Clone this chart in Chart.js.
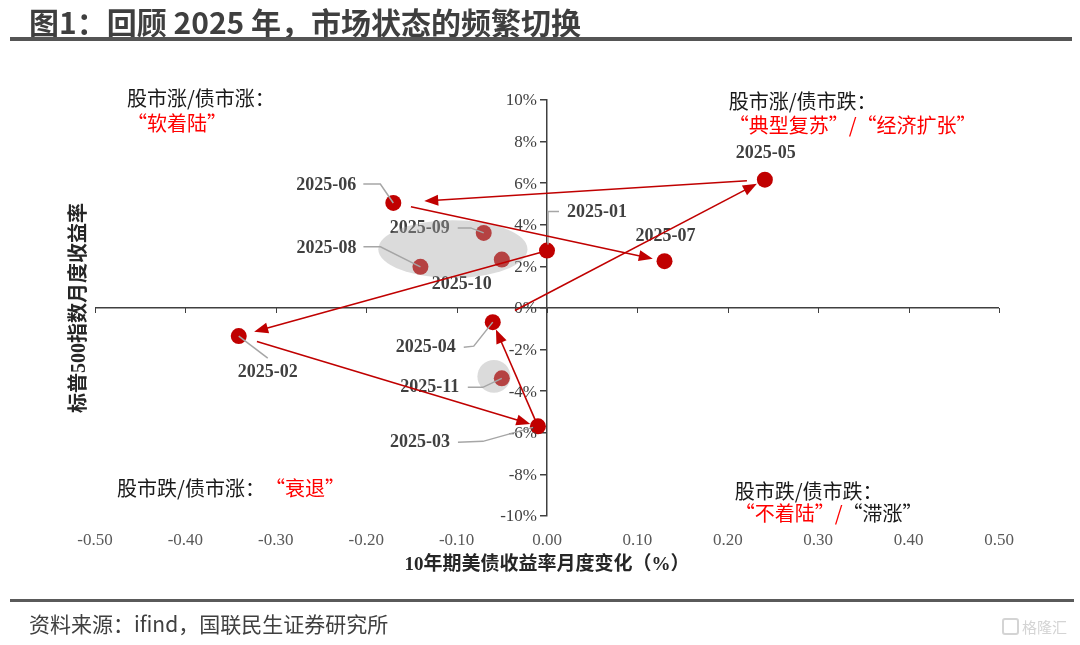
<!DOCTYPE html>
<html>
<head>
<meta charset="utf-8">
<script src="https://cdn.jsdelivr.net/npm/chart.js@4.4.0/dist/chart.umd.min.js"></script>
<style>
html,body{margin:0;padding:0;background:#fff;}
#wrap{position:relative;width:1080px;height:645px;overflow:hidden;background:#fff;}
#c{position:absolute;left:0;top:0;}
#title{position:absolute;left:29px;top:0px;font-family:"Noto Sans CJK SC";font-weight:bold;font-size:30px;line-height:42px;color:#3f3f3f;white-space:nowrap;}
#rule1{position:absolute;left:10px;top:37px;width:1062px;height:4px;background:#555;}
#rule2{position:absolute;left:10px;top:599px;width:1064px;height:3px;background:#5a5a5a;}
#source{position:absolute;left:29px;top:608px;font-family:"Noto Sans CJK SC";font-size:21px;line-height:30px;color:#404040;white-space:nowrap;}
#wm{position:absolute;left:1002px;top:617px;font-family:"Noto Sans CJK SC";font-size:15px;line-height:20px;color:#d4d4d4;white-space:nowrap;}
#wm span.ic{display:inline-block;width:13px;height:13px;border:2px solid #d4d4d4;border-radius:3px;vertical-align:-2px;margin-right:3px;}
</style>
</head>
<body>
<div id="wrap">
  <canvas id="c" width="1080" height="645"></canvas>
  <div id="title">图1：回顾 2025 年，市场状态的频繁切换</div>
  <div id="rule1"></div>
  <div id="rule2"></div>
  <div id="source">资料来源：ifind，国联民生证券研究所</div>
  <div id="wm"><span class="ic"></span>格隆汇</div>
</div>
<script>
// ---------------- data ----------------
const months = ['2025-01','2025-02','2025-03','2025-04','2025-05','2025-06','2025-07','2025-08','2025-09','2025-10','2025-11'];
const yieldChange = [0.000, -0.341, -0.010, -0.060, 0.241, -0.170, 0.130, -0.140, -0.070, -0.050, -0.050];
const spxReturn   = [2.76, -1.35, -5.69, -0.68, 6.17, 5.05, 2.25, 1.98, 3.61, 2.33, -3.38];
const xTickValues = [-0.5, -0.4, -0.3, -0.2, -0.1, 0, 0.1, 0.2, 0.3, 0.4, 0.5];
const yTickValues = [-10, -8, -6, -4, -2, 0, 2, 4, 6, 8, 10];
const pathMonths  = ['2025-01','2025-02','2025-03','2025-04','2025-05','2025-06','2025-07'];
const xTitle = '10年期美债收益率月度变化（%）';
const yTitle = '标普500指数月度收益率';

// ---------------- annotations / styling ----------------
const RED = '#C00000';
const quadrantNotes = [
  {x: -0.4646, y: 10.06, segs: [['股市涨/债市涨：', '#1a1a1a']]},
  {x: -0.4646, y: 8.86,  segs: [['“软着陆”', '#ff0000']]},
  {x: 0.2010,  y: 9.91,  segs: [['股市涨/债市跌：', '#1a1a1a']]},
  {x: 0.2010,  y: 8.76,  segs: [['“典型复苏”/“经济扩张”', '#ff0000']]},
  {x: -0.4756, y: -8.665, segs: [['股市跌/债市涨：', '#1a1a1a'], ['“衰退”', '#ff0000']]},
  {x: 0.2076,  y: -8.81, segs: [['股市跌/债市跌：', '#1a1a1a']]},
  {x: 0.2076,  y: -9.87, segs: [['“不着陆”/', '#ff0000'], ['“滞涨”', '#1a1a1a']]}
];
const highlightAreas = [
  {cx: -0.1041, cy: 2.83, rx: 0.0825, ry: 1.39},
  {cx: -0.0587, cy: -3.29, rx: 0.0183, ry: 0.79}
];
const arrowGaps = [[5,16],[19,8],[3,8],[25,9],[18,31],[18,12]];
const labelLayout = {
  '2025-01': {dx: 20, dy: -38, align: 'left', leader: [[1,-6],[1,-39],[12,-39]]},
  '2025-02': {dx: 29, dy: 36, leader: [[0,0],[29,22]]},
  '2025-03': {dx: -118, dy: 16, leader: [[-80,16],[-55,15],[-5,1]]},
  '2025-04': {dx: -67, dy: 25, leader: [[-29,25],[-19,24],[0,0]]},
  '2025-05': {dx: 1, dy: -26},
  '2025-06': {dx: -67, dy: -18, leader: [[-30,-19],[-13,-19],[0,0]]},
  '2025-07': {dx: 1, dy: -25},
  '2025-08': {dx: -94, dy: -18, leader: [[-57,-20],[-40,-20],[0,0]]},
  '2025-09': {dx: -64, dy: -5, leader: [[-26,-5],[-13,-5],[0,0]]},
  '2025-10': {dx: -40, dy: 25},
  '2025-11': {dx: -72, dy: 9, leader: [[-34,9],[-19,9],[0,0]]}
};

const points = months.map((m, i) => ({x: yieldChange[i], y: spxReturn[i], m}));

const decorPlugin = {
  id: 'decor',
  afterDatasetsDraw(chart) {
    const {ctx, scales: {x, y}} = chart;
    const px = i => ({x: x.getPixelForValue(yieldChange[i]), y: y.getPixelForValue(spxReturn[i])});
    ctx.save();
    // x-axis tick marks on zero line
    const y0 = y.getPixelForValue(0);
    ctx.strokeStyle = '#404040';
    ctx.lineWidth = 1;
    xTickValues.forEach(v => {
      const xx = Math.round(x.getPixelForValue(v)) + 0.5;
      ctx.beginPath(); ctx.moveTo(xx, y0); ctx.lineTo(xx, y0 + 5); ctx.stroke();
    });
    // y tick labels next to the zero axis
    const ax = x.getPixelForValue(0);
    ctx.font = '17px "Liberation Serif", "Times New Roman", serif';
    ctx.fillStyle = '#404040';
    ctx.textAlign = 'right';
    ctx.textBaseline = 'middle';
    yTickValues.forEach(v => ctx.fillText(v + '%', ax - 10, y.getPixelForValue(v) + 1));
    // leaders
    ctx.strokeStyle = '#A6A6A6';
    ctx.lineWidth = 1.5;
    months.forEach((m, i) => {
      const L = labelLayout[m]; if (!L || !L.leader) return;
      const p = px(i);
      ctx.beginPath();
      L.leader.forEach((o, k) => { const fx = p.x + o[0], fy = p.y + o[1]; k ? ctx.lineTo(fx, fy) : ctx.moveTo(fx, fy); });
      ctx.stroke();
    });
    // labels
    ctx.font = 'bold 18px "Liberation Serif", "Times New Roman", serif';
    ctx.fillStyle = '#404040';
    ctx.textBaseline = 'middle';
    months.forEach((m, i) => {
      const L = labelLayout[m]; const p = px(i);
      ctx.textAlign = L.align || 'center';
      ctx.fillText(m, p.x + L.dx, p.y + L.dy);
    });
    // highlight ellipses
    ctx.fillStyle = 'rgba(165,165,165,0.4)';
    highlightAreas.forEach(e => {
      const cx = x.getPixelForValue(e.cx), cy = y.getPixelForValue(e.cy);
      const rx = Math.abs(x.getPixelForValue(e.cx + e.rx) - cx);
      const ry = Math.abs(y.getPixelForValue(e.cy + e.ry) - cy);
      ctx.beginPath(); ctx.ellipse(cx, cy, rx, ry, 0, 0, Math.PI * 2); ctx.fill();
    });
    // arrows
    ctx.strokeStyle = RED; ctx.fillStyle = RED; ctx.lineWidth = 1.6;
    for (let k = 0; k < pathMonths.length - 1; k++) {
      const a = px(months.indexOf(pathMonths[k])), b = px(months.indexOf(pathMonths[k + 1]));
      const dx = b.x - a.x, dy = b.y - a.y, len = Math.hypot(dx, dy);
      const ux = dx / len, uy = dy / len;
      const g = arrowGaps[k] || [10, 10];
      const sx = a.x + ux * g[0], sy = a.y + uy * g[0];
      const tx = b.x - ux * g[1], ty = b.y - uy * g[1];
      const hl = 14, hw = 5.5;
      const bx = tx - ux * hl, by = ty - uy * hl;
      ctx.beginPath(); ctx.moveTo(sx, sy); ctx.lineTo(bx + ux * 2, by + uy * 2); ctx.stroke();
      ctx.beginPath(); ctx.moveTo(tx, ty);
      ctx.lineTo(bx - uy * hw, by + ux * hw);
      ctx.lineTo(bx + uy * hw, by - ux * hw);
      ctx.closePath(); ctx.fill();
    }
    ctx.restore();
  },
  afterDraw(chart) {
    const {ctx, scales: {x, y}, chartArea} = chart;
    ctx.save();
    // quadrant notes
    ctx.font = '20px "Noto Sans CJK SC"';
    ctx.textBaseline = 'middle';
    ctx.textAlign = 'left';
    quadrantNotes.forEach(n => {
      let cx = x.getPixelForValue(n.x);
      const cy = y.getPixelForValue(n.y);
      n.segs.forEach(s => { ctx.fillStyle = s[1]; ctx.fillText(s[0], cx, cy); cx += ctx.measureText(s[0]).width; });
    });
    // axis titles
    ctx.fillStyle = '#262626';
    ctx.font = 'bold 19px "Liberation Serif", "Noto Sans CJK SC"';
    ctx.textAlign = 'center';
    ctx.fillText(xTitle, (chartArea.left + chartArea.right) / 2, chartArea.bottom + 49);
    ctx.translate(80, (chartArea.top + chartArea.bottom) / 2);
    ctx.rotate(-Math.PI / 2);
    ctx.font = 'bold 20px "Liberation Serif", "Noto Sans CJK SC"';
    ctx.fillText(yTitle, 0, 0);
    ctx.restore();
  }
};

new Chart(document.getElementById('c'), {
  type: 'scatter',
  data: {
    datasets: [{
      data: points,
      backgroundColor: RED,
      borderColor: RED,
      borderWidth: 0,
      pointRadius: 8,
      pointHoverRadius: 8
    }]
  },
  options: {
    responsive: false,
    animation: false,
    devicePixelRatio: 1,
    layout: {padding: {left: 95, right: 81, top: 100, bottom: 89}},
    plugins: {legend: {display: false}, tooltip: {enabled: false}},
    scales: {
      x: {
        type: 'linear', position: 'bottom', min: -0.5, max: 0.5,
        afterBuildTicks: s => { s.ticks = xTickValues.map(v => ({value: v})); },
        afterFit: s => { s.height = 40; },
        grid: {display: true, drawOnChartArea: false, drawTicks: false, color: 'rgba(0,0,0,0)'},
        border: {display: false},
        ticks: {padding: 14, color: '#595959', font: {family: '"Liberation Serif"', size: 17}, callback: v => v.toFixed(2), maxRotation: 0, autoSkip: false}
      },
      y: {
        type: 'linear', position: {x: 0}, min: -10, max: 10,
        afterBuildTicks: s => { s.ticks = yTickValues.map(v => ({value: v})); },
        grid: {
          drawTicks: true, tickLength: 6, tickColor: '#404040', lineWidth: 1.5,
          color: c => (c.tick && c.tick.value === 0) ? '#404040' : 'rgba(0,0,0,0)'
        },
        border: {display: true, color: '#404040', width: 1.5},
        ticks: {display: false}
      }
    }
  },
  plugins: [decorPlugin]
});
</script>
</body>
</html>
